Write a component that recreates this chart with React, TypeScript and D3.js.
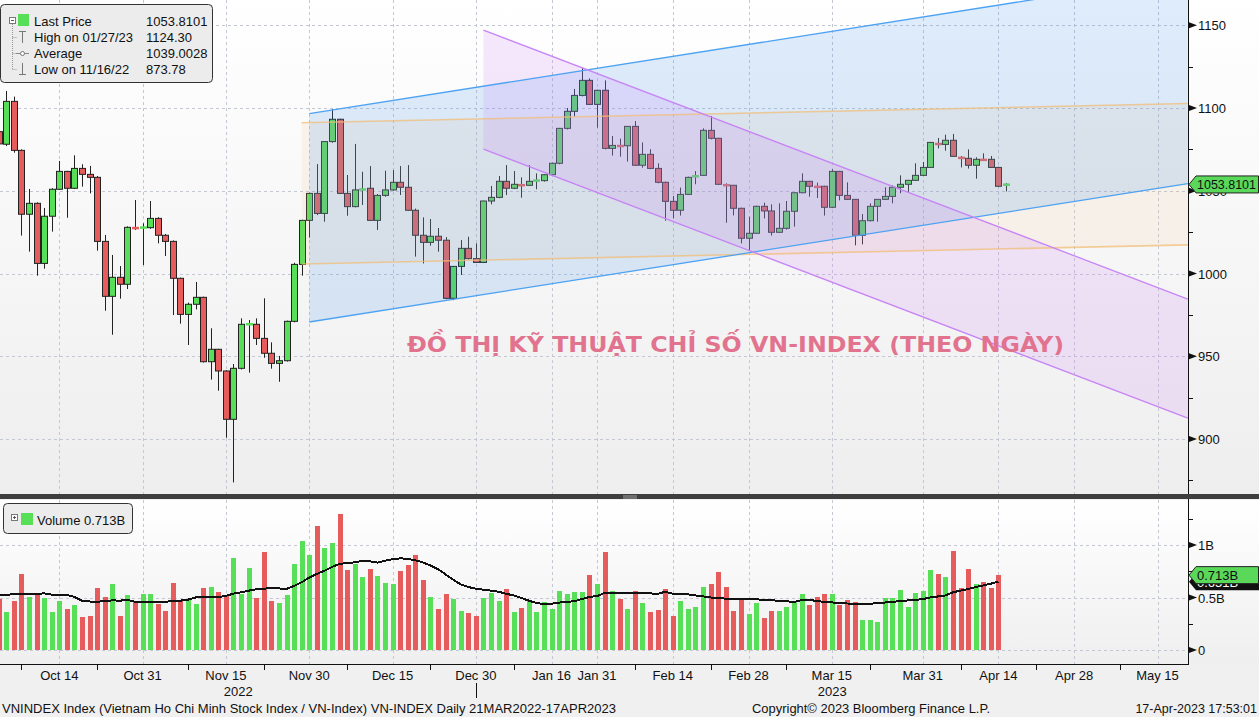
import React from "react";
import * as d3 from "d3";

const W = 1259;
const H = 717;
const FONT = "'Liberation Sans', Arial, sans-serif";

// trading days shown (Oct 4 2022 .. Apr 17 2023)
const dates = [
  "2022-10-04","2022-10-05","2022-10-06","2022-10-07","2022-10-10","2022-10-11","2022-10-12","2022-10-13","2022-10-14","2022-10-17",
  "2022-10-18","2022-10-19","2022-10-20","2022-10-21","2022-10-24","2022-10-25","2022-10-26","2022-10-27","2022-10-28","2022-10-31",
  "2022-11-01","2022-11-02","2022-11-03","2022-11-04","2022-11-07","2022-11-08","2022-11-09","2022-11-10","2022-11-11","2022-11-14",
  "2022-11-15","2022-11-16","2022-11-17","2022-11-18","2022-11-21","2022-11-22","2022-11-23","2022-11-24","2022-11-25","2022-11-28",
  "2022-11-29","2022-11-30","2022-12-01","2022-12-02","2022-12-05","2022-12-06","2022-12-07","2022-12-08","2022-12-09","2022-12-12",
  "2022-12-13","2022-12-14","2022-12-15","2022-12-16","2022-12-19","2022-12-20","2022-12-21","2022-12-22","2022-12-23","2022-12-26",
  "2022-12-27","2022-12-28","2022-12-29","2022-12-30","2023-01-03","2023-01-04","2023-01-05","2023-01-06","2023-01-09","2023-01-10",
  "2023-01-11","2023-01-12","2023-01-13","2023-01-16","2023-01-17","2023-01-18","2023-01-19","2023-01-27","2023-01-30","2023-01-31",
  "2023-02-01","2023-02-02","2023-02-03","2023-02-06","2023-02-07","2023-02-08","2023-02-09","2023-02-10","2023-02-13","2023-02-14",
  "2023-02-15","2023-02-16","2023-02-17","2023-02-20","2023-02-21","2023-02-22","2023-02-23","2023-02-24","2023-02-27","2023-02-28",
  "2023-03-01","2023-03-02","2023-03-03","2023-03-06","2023-03-07","2023-03-08","2023-03-09","2023-03-10","2023-03-13","2023-03-14",
  "2023-03-15","2023-03-16","2023-03-17","2023-03-20","2023-03-21","2023-03-22","2023-03-23","2023-03-24","2023-03-27","2023-03-28",
  "2023-03-29","2023-03-30","2023-03-31","2023-04-03","2023-04-04","2023-04-05","2023-04-06","2023-04-07","2023-04-10","2023-04-11",
  "2023-04-12","2023-04-13","2023-04-14","2023-04-17",
];

const futureDays = [
  "2023-04-18","2023-04-19","2023-04-20","2023-04-21","2023-04-24","2023-04-25","2023-04-26","2023-04-27","2023-04-28",
  "2023-05-01","2023-05-02","2023-05-03","2023-05-04","2023-05-05","2023-05-08","2023-05-09","2023-05-10","2023-05-11","2023-05-12",
  "2023-05-15","2023-05-16","2023-05-17","2023-05-18","2023-05-19",
];

const openP = [
  1085.7,1078.1,1104.0,1074.4,1035.8,1042.4,1006.1,1034.6,1050.9,1061.7,
  1051.5,1063.5,1059.9,1058.1,1019.4,986.2,997.7,993.5,1028.0,1027.6,
  1027.7,1033.3,1023.1,1019.4,997.1,975.3,981.4,985.6,946.7,954.2,
  941.1,911.9,942.7,969.1,969.3,960.8,951.8,945.7,947.3,971.1,
  1005.5,1032.1,1048.4,1036.3,1079.7,1093.2,1048.4,1040.4,1050.5,1051.5,
  1032.1,1047.2,1050.5,1055.1,1052.1,1038.2,1023.1,1018.8,1022.5,1020.1,
  985.0,1004.3,1015.2,1009.0,1006.7,1043.8,1046.0,1055.7,1051.5,1054.0,
  1053.3,1055.9,1056.1,1059.7,1066.6,1087.7,1098.0,1107.6,1116.7,1102.2,
  1110.7,1075.6,1077.6,1077.2,1088.9,1065.4,1072.0,1063.5,1055.1,1043.6,
  1038.2,1047.8,1058.4,1059.3,1086.5,1081.7,1053.9,1053.3,1039.4,1021.3,
  1024.3,1040.6,1037.8,1024.9,1027.3,1037.6,1048.8,1055.7,1052.9,1052.7,
  1040.0,1061.7,1047.2,1044.8,1023.1,1031.9,1040.6,1044.8,1046.6,1052.1,
  1053.9,1056.3,1059.3,1064.1,1078.8,1078.0,1080.5,1070.4,1069.6,1065.4,
  1069.2,1069.0,1064.1,1053.3,
];

const highP = [
  1088.0,1110.3,1106.9,1075.0,1051.1,1043.0,1039.6,1051.5,1068.0,1062.0,
  1071.4,1066.0,1065.0,1058.9,1023.3,1011.2,1004.5,1028.5,1044.4,1030.3,
  1043.8,1034.0,1023.9,1020.0,997.5,982.4,994.9,986.0,966.9,954.5,
  941.5,945.3,972.9,971.9,972.9,985.0,958.4,950.2,971.5,1006.5,
  1032.5,1048.8,1066.1,1080.0,1099.4,1093.5,1059.5,1078.3,1061.5,1064.9,
  1048.0,1062.1,1062.5,1064.9,1065.5,1039.2,1033.9,1032.9,1027.5,1022.0,
  1004.5,1020.2,1022.2,1018.2,1044.0,1052.9,1058.9,1065.5,1061.9,1058.1,
  1065.5,1060.5,1060.0,1067.0,1088.0,1100.0,1111.5,1124.3,1117.9,1111.0,
  1116.7,1083.1,1081.5,1089.0,1092.1,1079.2,1075.1,1066.6,1055.5,1046.8,
  1051.9,1058.5,1061.9,1087.7,1095.2,1082.0,1054.5,1053.5,1039.8,1034.3,
  1041.0,1042.8,1041.8,1042.4,1043.8,1049.0,1060.5,1056.0,1054.9,1053.0,
  1063.0,1062.0,1055.1,1045.0,1035.9,1042.4,1045.0,1052.1,1053.3,1059.3,
  1056.5,1066.6,1067.4,1079.5,1081.9,1083.9,1084.3,1071.0,1075.0,1070.2,
  1072.6,1071.0,1064.5,1054.7,
];

const lowP = [
  1076.0,1077.0,1073.0,1022.9,1013.2,998.7,1002.9,1025.3,1050.5,1033.7,
  1051.0,1052.5,1048.4,1013.8,977.5,963.0,984.8,990.6,1026.3,1005.1,
  1027.0,1018.2,1010.6,974.9,969.7,956.8,978.3,946.2,935.9,929.2,
  900.8,873.78,942.0,940.1,956.8,949.1,942.5,934.6,946.8,970.5,
  998.7,1021.7,1035.3,1031.3,1079.0,1048.0,1034.9,1040.0,1041.4,1032.0,
  1026.3,1046.4,1050.0,1047.4,1038.0,1010.2,1006.1,1016.8,1013.2,984.5,
  983.9,999.1,1008.5,1006.5,1006.5,1041.8,1045.5,1047.4,1051.0,1045.8,
  1053.0,1050.9,1055.5,1059.0,1066.0,1087.0,1094.8,1107.0,1102.0,1088.1,
  1075.0,1071.2,1070.6,1067.6,1065.0,1063.9,1063.0,1054.5,1031.9,1033.3,
  1035.0,1047.5,1053.9,1059.0,1081.0,1053.5,1030.7,1035.1,1018.2,1013.8,
  1024.0,1033.3,1022.9,1024.5,1026.5,1028.3,1048.5,1046.4,1045.6,1035.0,
  1039.5,1044.2,1044.5,1017.0,1017.6,1031.5,1031.3,1044.5,1042.4,1048.5,
  1049.0,1056.0,1059.0,1064.0,1075.6,1074.2,1070.5,1064.1,1063.4,1057.3,
  1068.5,1064.0,1052.5,1049.6,
];

const closeP = [
  1078.3,1104.0,1074.4,1035.8,1042.4,1006.1,1034.6,1050.9,1061.7,1051.5,
  1063.5,1059.9,1058.1,1019.4,986.2,997.7,993.5,1027.9,1027.6,1027.9,
  1033.3,1023.1,1019.4,997.1,975.3,981.4,985.6,946.7,954.2,941.1,
  911.9,942.7,969.3,969.5,960.8,951.8,945.7,947.3,971.1,1005.5,
  1032.1,1048.4,1036.3,1079.7,1093.2,1048.4,1040.4,1050.5,1050.9,1032.1,
  1047.2,1050.5,1055.1,1052.1,1038.2,1023.1,1018.8,1022.5,1020.1,985.0,
  1004.3,1015.2,1009.0,1006.7,1043.8,1046.0,1055.7,1051.5,1053.9,1053.5,
  1055.7,1056.3,1059.7,1066.6,1087.7,1098.0,1107.6,1116.7,1102.2,1110.7,
  1075.6,1077.4,1077.2,1088.9,1065.4,1072.0,1063.5,1055.1,1043.6,1038.2,
  1047.8,1058.1,1058.9,1086.5,1081.7,1053.9,1053.5,1039.4,1021.3,1024.3,
  1040.6,1037.8,1024.9,1027.3,1037.6,1048.8,1055.7,1052.7,1052.5,1040.0,
  1061.7,1047.2,1044.8,1023.1,1031.9,1040.6,1044.8,1046.6,1052.1,1053.9,
  1056.3,1059.3,1064.1,1079.2,1078.4,1080.5,1070.8,1070.0,1065.4,1069.0,
  1068.8,1064.1,1052.7,1053.81,
];

// volume in billions (Oct 4 .. Apr 14)
const volume = [
  0.486,0.362,0.467,0.724,0.505,0.530,0.492,0.362,0.467,0.390,
  0.429,0.314,0.324,0.590,0.505,0.629,0.324,0.524,0.467,0.533,
  0.533,0.438,0.371,0.638,0.467,0.476,0.438,0.590,0.600,0.552,
  0.524,0.879,0.537,0.784,0.498,0.933,0.467,0.451,0.524,0.819,
  1.040,0.905,1.181,0.968,1.019,1.295,0.762,0.819,0.695,0.771,
  0.705,0.638,0.629,0.752,0.810,0.905,0.667,0.505,0.390,0.533,
  0.486,0.371,0.352,0.324,0.495,0.543,0.467,0.581,0.362,0.400,
  0.476,0.362,0.457,0.390,0.562,0.533,0.552,0.552,0.714,0.629,
  0.933,0.562,0.486,0.390,0.562,0.448,0.362,0.381,0.581,0.324,
  0.467,0.390,0.410,0.600,0.629,0.743,0.600,0.371,0.486,0.343,
  0.448,0.305,0.371,0.371,0.410,0.457,0.533,0.429,0.505,0.533,
  0.533,0.429,0.476,0.457,0.286,0.286,0.267,0.495,0.495,0.571,
  0.410,0.543,0.562,0.762,0.724,0.695,0.943,0.590,0.771,0.629,
  0.648,0.590,0.713,
];

// volume moving average (billions)
const volumeAvg = [
  0.524,0.527,0.530,0.533,0.533,0.533,0.540,0.527,0.524,0.524,
  0.505,0.470,0.462,0.460,0.465,0.473,0.470,0.476,0.460,0.457,
  0.457,0.457,0.460,0.465,0.470,0.480,0.500,0.505,0.505,0.505,
  0.515,0.537,0.550,0.565,0.578,0.585,0.587,0.586,0.582,0.610,
  0.645,0.690,0.724,0.755,0.790,0.820,0.828,0.835,0.848,0.845,
  0.832,0.850,0.865,0.873,0.868,0.855,0.835,0.805,0.770,0.720,
  0.670,0.625,0.600,0.583,0.575,0.565,0.555,0.535,0.520,0.495,
  0.470,0.447,0.438,0.440,0.452,0.457,0.465,0.485,0.505,0.514,
  0.543,0.542,0.540,0.542,0.544,0.546,0.540,0.533,0.556,0.535,
  0.532,0.530,0.520,0.511,0.500,0.492,0.490,0.488,0.486,0.484,
  0.482,0.479,0.474,0.469,0.465,0.457,0.474,0.476,0.468,0.458,
  0.454,0.446,0.443,0.440,0.438,0.440,0.446,0.452,0.458,0.467,
  0.472,0.477,0.485,0.500,0.510,0.520,0.550,0.565,0.581,0.600,
  0.615,0.632,0.651,
];

const tickDates = [
  "2022-10-14","2022-10-31","2022-11-15","2022-11-30","2022-12-15","2022-12-30","2023-01-16","2023-01-31",
  "2023-02-14","2023-02-28","2023-03-15","2023-03-31","2023-04-14","2023-04-28","2023-05-15",
];
const tickLabels = [
  "Oct 14","Oct 31","Nov 15","Nov 30","Dec 15","Dec 30","Jan 16","Jan 31",
  "Feb 14","Feb 28","Mar 15","Mar 31","Apr 14","Apr 28","May 15",
];
const minorTickDates = [
  "2022-10-07","2022-10-21","2022-11-08","2022-11-22","2022-12-07","2022-12-22","2023-01-09",
  "2023-02-07","2023-02-21","2023-03-07","2023-03-22","2023-04-07","2023-04-21","2023-05-08",
];
const yearLabels = ["2022", "2023"];
const yearBoundary = "2022-12-30";

const priceTicks = [900, 950, 1000, 1050, 1100, 1150];
const priceMinorTicks = [875, 925, 975, 1025, 1075, 1125];
const volTicks = [0, 0.5, 1];
const volTickLabels = ["0", "0.5B", "1B"];
const volMinorTicks = [0.25, 0.75, 1.25];

// trend channels: [start date, end date], upper & lower values at each end
const orangeChannelDates = ["2022-11-29", "2023-05-19"];
const orangeUpper = [1091.1, 1102.7];
const orangeLower = [1005.7, 1017.3];
const blueChannelDates = ["2022-11-30", "2023-05-19"];
const blueUpper = [1096.6, 1180.2];
const blueLower = [970.7, 1054.3];
const purpleChannelDates = ["2023-01-03", "2023-05-19"];
const purpleUpper = [1147.1, 984.5];
const purpleLower = [1075.2, 912.6];

const legendRows = [
  { label: "Last Price", value: "1053.8101" },
  { label: "High on 01/27/23", value: "1124.30" },
  { label: "Average", value: "1039.0028" },
  { label: "Low on 11/16/22", value: "873.78" },
];
const lastPrice = 1053.8101;
const lastVolume = 0.713;
const lastVolumeAvg = 0.651;

const GREEN = "#58df58";
const RED = "#e65c5c";

export default function App() {
  const allDays = [...dates, ...futureDays];
  const x = d3.scalePoint<string>().domain(allDays).range([-1.3, 1187.8]);
  const yP = d3.scaleLinear().domain([1000, 1150]).range([273.5, 25.25]);
  const yV = d3.scaleLinear().domain([0, 1]).range([650, 545]);
  const R = 1188; // right edge of plots
  const topBottom = 494;

  const xs = (d: string) => x(d) as number;

  const channel = (ds: string[], up: number[], lo: number[]) => {
    const x0 = xs(ds[0]), x1 = xs(ds[1]);
    return {
      poly: `M${x0},${yP(up[0])}L${x1},${yP(up[1])}L${x1},${yP(lo[1])}L${x0},${yP(lo[0])}Z`,
      upper: [x0, yP(up[0]), x1, yP(up[1])],
      lower: [x0, yP(lo[0]), x1, yP(lo[1])],
    };
  };
  const oc = channel(orangeChannelDates, orangeUpper, orangeLower);
  const bc = channel(blueChannelDates, blueUpper, blueLower);
  const pc = channel(purpleChannelDates, purpleUpper, purpleLower);

  const maLine = d3
    .line<number>()
    .x((_, i) => xs(dates[i]))
    .y((v) => yV(v))(volumeAvg);

  const boundaryX = Math.round(xs(yearBoundary)) + 0.5;
  const yearCenters = [boundaryX / 2, (boundaryX + R) / 2];

  const dash = "3,3";
  const gridColor = "#c3c8d2";

  return (
    <svg
      width={W}
      height={H}
      style={{ position: "absolute", left: 0, top: 0, fontFamily: FONT }}
    >
      <defs>
        <linearGradient id="gTop" x1="0" y1="0" x2="0" y2="1">
          <stop offset="0" stopColor="#ffffff" />
          <stop offset="1" stopColor="#eeeeee" />
        </linearGradient>
        <linearGradient id="gVol" x1="0" y1="0" x2="0" y2="1">
          <stop offset="0" stopColor="#ffffff" />
          <stop offset="1" stopColor="#efefef" />
        </linearGradient>
        <clipPath id="clipTop">
          <rect x={0} y={0} width={R} height={topBottom} />
        </clipPath>
        <clipPath id="clipVol">
          <rect x={0} y={500} width={R} height={164} />
        </clipPath>
      </defs>

      <rect x={0} y={0} width={W} height={H} fill="#f0f0f0" />
      <rect x={0} y={0} width={W} height={topBottom} fill="url(#gTop)" />
      <rect x={0} y={500} width={W} height={164} fill="url(#gVol)" />

      {/* grid */}
      <g stroke={gridColor} strokeDasharray={dash} strokeWidth={1}>
        {priceTicks.map((t) => (
          <line key={t} x1={0} x2={R} y1={Math.round(yP(t)) + 0.5} y2={Math.round(yP(t)) + 0.5} />
        ))}
        {tickDates.map((d) => (
          <line key={d} x1={Math.round(xs(d)) + 0.5} x2={Math.round(xs(d)) + 0.5} y1={0} y2={topBottom} />
        ))}
        {volTicks.map((t) => (
          <line key={"v" + t} x1={0} x2={R} y1={Math.round(yV(t)) + 0.5} y2={Math.round(yV(t)) + 0.5} />
        ))}
        {tickDates.map((d) => (
          <line key={"v" + d} x1={Math.round(xs(d)) + 0.5} x2={Math.round(xs(d)) + 0.5} y1={500} y2={664} />
        ))}
      </g>

      {/* candles */}
      <g clipPath="url(#clipTop)">
        {dates.map((d, i) => {
          const cx = Math.round(xs(d));
          const o = openP[i], c = closeP[i];
          const up = c >= o;
          const doji = Math.abs(c - o) < 0.8;
          const yT = yP(Math.max(o, c));
          const yB = yP(Math.min(o, c));
          return (
            <g key={d}>
              <line x1={cx + 0.5} x2={cx + 0.5} y1={yP(highP[i])} y2={yP(lowP[i])} stroke="#222" strokeWidth={1} />
              {doji ? (
                <rect x={cx - 3} y={yP(c) - 1} width={7} height={2.5} fill={up ? GREEN : RED} />
              ) : (
                <rect x={cx - 2.5} y={yT} width={6} height={Math.max(1, yB - yT)} fill={up ? GREEN : RED} stroke="#222" strokeWidth={1} />
              )}
            </g>
          );
        })}
      </g>

      {/* channels */}
      <g clipPath="url(#clipTop)">
        <path d={oc.poly} fill="rgba(245,190,120,0.12)" />
        <path d={bc.poly} fill="rgba(70,150,240,0.18)" />
        <path d={pc.poly} fill="rgba(200,120,250,0.165)" />
        {[oc.upper, oc.lower].map((l, k) => (
          <line key={"o" + k} x1={l[0]} y1={l[1]} x2={l[2]} y2={l[3]} stroke="rgba(242,190,120,0.75)" strokeWidth={1.6} />
        ))}
        {[bc.upper, bc.lower].map((l, k) => (
          <line key={"b" + k} x1={l[0]} y1={l[1]} x2={l[2]} y2={l[3]} stroke="#4da2f2" strokeWidth={1.3} />
        ))}
        {[pc.upper, pc.lower].map((l, k) => (
          <line key={"p" + k} x1={l[0]} y1={l[1]} x2={l[2]} y2={l[3]} stroke="#c784f5" strokeWidth={1.3} />
        ))}
      </g>

      {/* watermark */}
      <text
        x={407}
        y={352}
        fontFamily="'DejaVu Sans', sans-serif"
        fontWeight="bold"
        fontSize={22}
        fill="#e2738f"
        textLength={657}
        lengthAdjust="spacingAndGlyphs"
      >
        ĐỒ THỊ KỸ THUẬT CHỈ SỐ VN-INDEX (THEO NGÀY)
      </text>

      {/* volume bars */}
      <g clipPath="url(#clipVol)" shapeRendering="crispEdges">
        {volume.map((v, i) => {
          const cx = Math.round(xs(dates[i]));
          const up = closeP[i] >= openP[i];
          return (
            <rect key={i} x={cx - 2} y={yV(v)} width={5} height={yV(0) - yV(v)} fill={up ? GREEN : RED} />
          );
        })}
        <path d={maLine || ""} fill="none" stroke="#111" strokeWidth={2} />
      </g>

      {/* panel separator */}
      <rect x={0} y={494} width={W} height={5} fill="#3e3e3e" />
      <rect x={623} y={495.5} width={14} height={1} fill="#a0a0a0" />
      <rect x={623} y={497.5} width={14} height={1} fill="#a0a0a0" />

      {/* right axis top */}
      <line x1={R + 0.5} x2={R + 0.5} y1={0} y2={topBottom} stroke="#111" />
      {priceMinorTicks.map((t) => (
        <line key={t} x1={R} x2={R + 5} y1={Math.round(yP(t)) + 0.5} y2={Math.round(yP(t)) + 0.5} stroke="#111" />
      ))}
      {priceTicks.map((t) => {
        const y = yP(t);
        return (
          <g key={t}>
            <path d={`M${R + 1},${y - 3}L${R + 9},${y}L${R + 1},${y + 3}Z`} fill="#111" />
            <text x={R + 10} y={y + 5} fontSize={13} fill="#111">
              {t}
            </text>
          </g>
        );
      })}
      {(() => {
        const y = yP(lastPrice);
        return (
          <g>
            <path
              d={`M${R + 1},${y}L${R + 8},${y - 8.5}L${W - 0.5},${y - 8.5}L${W - 0.5},${y + 8.5}L${R + 8},${y + 8.5}Z`}
              fill="#5ad85a"
              stroke="#222"
              strokeWidth={1}
            />
            <text x={R + 9} y={y + 5} fontSize={13} fill="#111" textLength={59} lengthAdjust="spacingAndGlyphs">
              {lastPrice.toFixed(4)}
            </text>
          </g>
        );
      })()}

      {/* right axis volume */}
      <line x1={R + 0.5} x2={R + 0.5} y1={499} y2={665} stroke="#111" />
      {volMinorTicks.map((t) => (
        <line key={t} x1={R} x2={R + 5} y1={Math.round(yV(t)) + 0.5} y2={Math.round(yV(t)) + 0.5} stroke="#111" />
      ))}
      {volTicks.map((t, k) => {
        const y = yV(t);
        return (
          <g key={t}>
            <path d={`M${R + 1},${y - 3}L${R + 9},${y}L${R + 1},${y + 3}Z`} fill="#111" />
            <text x={R + 10} y={y + 5} fontSize={13} fill="#111">
              {volTickLabels[k]}
            </text>
          </g>
        );
      })}
      {(() => {
        const y = yV(lastVolumeAvg);
        return (
          <g>
            <path
              d={`M${R + 1},${y}L${R + 8},${y - 8.5}L${W},${y - 8.5}L${W},${y + 8.5}L${R + 8},${y + 8.5}Z`}
              fill="#111"
            />
            <text x={R + 9} y={y + 5} fontSize={13} fill="#ffffff">
              {lastVolumeAvg.toFixed(3) + "B"}
            </text>
          </g>
        );
      })()}
      {(() => {
        const y = yV(lastVolume);
        return (
          <g>
            <path
              d={`M${R + 1},${y}L${R + 8},${y - 8.5}L${W - 0.5},${y - 8.5}L${W - 0.5},${y + 8.5}L${R + 8},${y + 8.5}Z`}
              fill="#5ad85a"
              stroke="#222"
              strokeWidth={1}
            />
            <text x={R + 9} y={y + 5} fontSize={13} fill="#111">
              {lastVolume.toFixed(3) + "B"}
            </text>
          </g>
        );
      })()}

      {/* bottom axis */}
      <line x1={0} x2={R + 1} y1={664.5} y2={664.5} stroke="#111" />
      {minorTickDates.map((d) => (
        <line key={d} x1={Math.round(xs(d)) + 0.5} x2={Math.round(xs(d)) + 0.5} y1={665} y2={670} stroke="#111" />
      ))}
      {tickDates.map((d, k) => (
        <text key={d} x={xs(d)} y={680} fontSize={13} fill="#111" textAnchor="middle">
          {tickLabels[k]}
        </text>
      ))}
      <line x1={boundaryX} x2={boundaryX} y1={683} y2={698} stroke="#111" />
      {yearLabels.map((yl, k) => (
        <text key={yl} x={yearCenters[k]} y={696} fontSize={13} fill="#111" textAnchor="middle">
          {yl}
        </text>
      ))}

      {/* footer */}
      <text x={2} y={713} fontSize={12.5} fill="#111" textLength={614} lengthAdjust="spacingAndGlyphs">
        VNINDEX Index (Vietnam Ho Chi Minh Stock Index / VN-Index) VN-INDEX  Daily 21MAR2022-17APR2023
      </text>
      <text x={752} y={713} fontSize={12.5} fill="#111" textLength={238} lengthAdjust="spacingAndGlyphs">
        Copyright© 2023 Bloomberg Finance L.P.
      </text>
      <text x={1257} y={713} fontSize={12.5} fill="#111" textAnchor="end">
        17-Apr-2023 17:53:01
      </text>

      {/* price legend */}
      <g>
        <rect x={0.5} y={4.5} width={212} height={78} rx={4} fill="#ececec" stroke="#333" />
        <line x1={12.5} x2={12.5} y1={24} y2={70} stroke="#999" strokeDasharray="1,1" />
        {[37, 53, 69].map((yy) => (
          <line key={yy} x1={12.5} x2={17} y1={yy + 0.5} y2={yy + 0.5} stroke="#999" strokeDasharray="1,1" />
        ))}
        <rect x={9.5} y={17.5} width={6} height={6} fill="#fff" stroke="#777" />
        <line x1={11} x2={14} y1={20.5} y2={20.5} stroke="#555" />
        <rect x={18} y={14} width={11} height={12} fill={GREEN} />
        <line x1={19} x2={26} y1={31.5} y2={31.5} stroke="#777" />
        <line x1={22.5} x2={22.5} y1={31.5} y2={43} stroke="#777" />
        <line x1={16} x2={29} y1={53.5} y2={53.5} stroke="#888" />
        <circle cx={22.5} cy={53.5} r={2} fill="#fff" stroke="#777" />
        <line x1={22.5} x2={22.5} y1={63} y2={74.5} stroke="#777" />
        <line x1={19} x2={26} y1={74.5} y2={74.5} stroke="#777" />
        {legendRows.map((r, k) => (
          <g key={r.label}>
            <text x={34} y={26 + k * 16} fontSize={13} fill="#111">
              {r.label}
            </text>
            <text x={146} y={26 + k * 16} fontSize={13} fill="#111">
              {r.value}
            </text>
          </g>
        ))}
      </g>

      {/* volume legend */}
      <g>
        <rect x={3.5} y={503.5} width={129} height={30} rx={4} fill="#ececec" stroke="#333" />
        <rect x={11.5} y={514.5} width={6} height={6} fill="#fff" stroke="#777" />
        <line x1={13} x2={16} y1={517.5} y2={517.5} stroke="#555" />
        <line x1={14.5} x2={14.5} y1={516} y2={519} stroke="#555" />
        <rect x={21} y={513} width={12} height={12} fill={GREEN} />
        <text x={37} y={525} fontSize={13} fill="#111">
          {"Volume " + lastVolume.toFixed(3) + "B"}
        </text>
      </g>
    </svg>
  );
}
